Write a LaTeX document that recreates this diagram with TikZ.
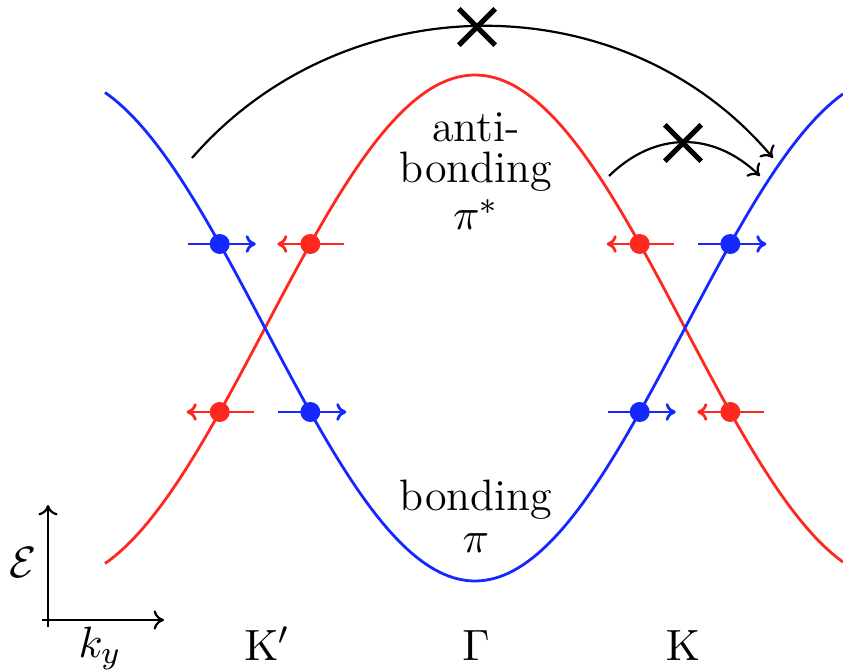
\documentclass[tikz,border=0pt]{standalone}
\usetikzlibrary{arrows.meta,calc,shapes.misc}
\definecolor{bandred}{RGB}{255,40,30}
\definecolor{bandblue}{RGB}{20,40,255}
\begin{document}
\begin{tikzpicture}[x=0.25pt,y=-0.25pt,
  dot/.style={circle,inner sep=0pt,minimum size=5pt},
  band/.style={line width=0.7pt},
  mom/.style={line width=0.7pt,-{To[length=2.5pt,width=4.4pt]}},
  hop/.style={line width=0.55pt,-{To[length=2.6pt,width=4.8pt]}},
  nohop/.style={draw,cross out,line width=1.3pt,inner sep=0pt,minimum size=7.8pt},
  lbl/.style={font=\fontsize{11}{10.5}\selectfont,inner sep=0pt,anchor=base},
  axis/.style={line width=0.55pt,-{To[length=2.6pt,width=4.8pt]}}]
\useasboundingbox (0,0) rectangle (843,671);
% bands
\draw[band,bandred] plot[domain=105:843,samples=160] (\x,{328-253*cos((\x-475)*0.4285714)});
\draw[band,bandblue] plot[domain=105:843,samples=160] (\x,{328+253*cos((\x-475)*0.4285714)});
% electron positions
\coordinate (bUL) at (219.7,244);
\coordinate (rUL) at (310.3,244);
\coordinate (rLL) at (219.7,412);
\coordinate (bLL) at (310.3,412);
\coordinate (rUR) at (639.7,244);
\coordinate (bUR) at (730.3,244);
\coordinate (bLR) at (639.7,412);
\coordinate (rLR) at (730.3,412);
% momentum arrows
\draw[mom,bandblue] ($(bUL)+(-32,0)$) -- ($(bUL)+(36,0)$);
\draw[mom,bandred] ($(rUL)+(34,0)$) -- ($(rUL)+(-33,0)$);
\draw[mom,bandred] ($(rLL)+(34,0)$) -- ($(rLL)+(-33,0)$);
\draw[mom,bandblue] ($(bLL)+(-32,0)$) -- ($(bLL)+(36,0)$);
\draw[mom,bandred] ($(rUR)+(34,0)$) -- ($(rUR)+(-33,0)$);
\draw[mom,bandblue] ($(bUR)+(-32,0)$) -- ($(bUR)+(36,0)$);
\draw[mom,bandblue] ($(bLR)+(-32,0)$) -- ($(bLR)+(36,0)$);
\draw[mom,bandred] ($(rLR)+(34,0)$) -- ($(rLR)+(-33,0)$);
% dots
\foreach \p in {bUL,bLL,bUR,bLR} \node[dot,fill=bandblue] (d\p) at (\p) {};
\foreach \p in {rUL,rLL,rUR,rLR} \node[dot,fill=bandred] (d\p) at (\p) {};
% forbidden scattering
\coordinate (h1s) at (192,158);
\coordinate (h1e) at (773,158);
\draw[hop] (h1s) .. controls (345,-18) and (625,-18) .. (h1e);
\node[nohop] (x1) at (477,27) {};
\coordinate (h2s) at (609,176);
\coordinate (h2e) at (760,176);
\draw[hop] (h2s) .. controls (655,131) and (713,131) .. (h2e);
\node[nohop] (x2) at (683,143) {};
% band labels
\node[lbl] (t1) at (476,142) {anti-};
\node[lbl] (t2) at (476,183) {bonding};
\node[lbl] (t3) at (476,230) {$\pi^*$};
\node[lbl] (t4) at (476,511) {bonding};
\node[lbl] (t5) at (476,552) {$\pi$};
% axes
\coordinate (ov) at (48,627);
\coordinate (oh) at (42,620);
\coordinate (ye) at (48,505);
\coordinate (xe) at (164,620);
\draw[axis] (ov) -- (ye);
\draw[axis] (oh) -- (xe);
\node[lbl] (E) at (23,577) {$\mathcal{E}$};
\node[lbl] (ky) at (100,657) {$k_y$};
% points
\node[lbl] (Kp) at (267,660) {$\mathrm{K}'$};
\node[lbl] (G) at (476,660) {$\Gamma$};
\node[lbl] (K) at (683,660) {$\mathrm{K}$};
\end{tikzpicture}
\end{document}
